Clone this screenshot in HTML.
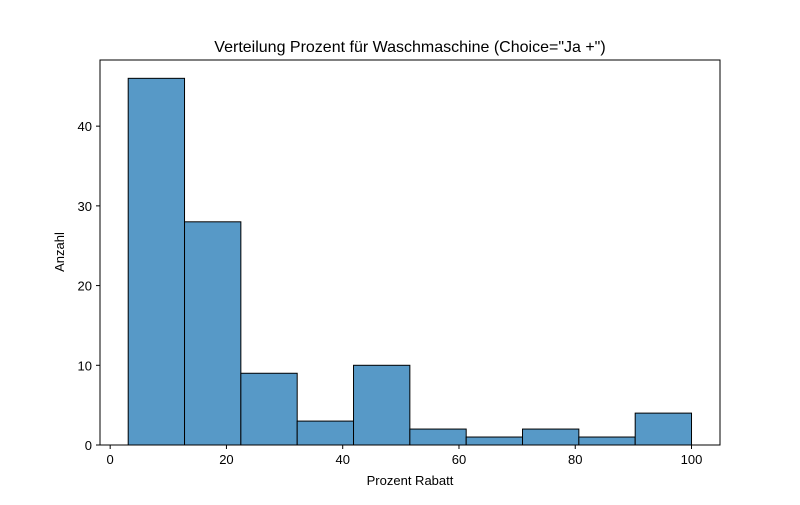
<!DOCTYPE html>
<html><head><meta charset="utf-8"><style>
body{margin:0;background:#fff;font-family:"Liberation Sans","DejaVu Sans",sans-serif;}
</style></head><body>
<svg id="chart" width="800" height="500" xmlns="http://www.w3.org/2000/svg">
<text x="410" y="52" font-size="16" text-anchor="middle">Verteilung Prozent für Waschmaschine (Choice="Ja +")</text>
<g id="bars"></g>
<rect x="100" y="60" width="620" height="385" fill="none" stroke="#000" stroke-width="1"/>
<g id="xticks"></g><g id="yticks"></g>
<text x="410" y="485" font-size="13" text-anchor="middle">Prozent Rabatt</text>
<text x="64" y="252" font-size="13" text-anchor="middle" transform="rotate(-90 64 252)">Anzahl</text>
</svg>
<script>
const binStart = 3.1;
const binWidth = 9.69;
const counts = [46, 28, 9, 3, 10, 2, 1, 2, 1, 4];
const xTicks = [0, 20, 40, 60, 80, 100];
const yTicks = [0, 10, 20, 30, 40];
const xMin = -1.75, xMax = 104.9, yMin = 0, yMax = 48.3;
const L = 100, R = 720, T = 60, B = 445;
const xs = v => L + (v - xMin) / (xMax - xMin) * (R - L);
const ys = v => B - (v - yMin) / (yMax - yMin) * (B - T);
const NS = "http://www.w3.org/2000/svg";
const bars = document.getElementById('bars');
counts.forEach((c, i) => {
  const x0 = xs(binStart + i * binWidth), x1 = xs(binStart + (i + 1) * binWidth);
  const r = document.createElementNS(NS, 'rect');
  r.setAttribute('x', x0); r.setAttribute('y', ys(c));
  r.setAttribute('width', x1 - x0); r.setAttribute('height', ys(0) - ys(c));
  r.setAttribute('fill', '#5799c7'); r.setAttribute('stroke', '#000'); r.setAttribute('stroke-width', '1');
  
  
  bars.appendChild(r);
});
const xg = document.getElementById('xticks');
xTicks.forEach(t => {
  const x = xs(t);
  const l = document.createElementNS(NS, 'line');
  l.setAttribute('x1', x); l.setAttribute('x2', x); l.setAttribute('y1', B); l.setAttribute('y2', B + 4); l.setAttribute('stroke', '#000');
  
  
  xg.appendChild(l);
  const tx = document.createElementNS(NS, 'text');
  tx.setAttribute('x', x); tx.setAttribute('y', B + 19); tx.setAttribute('font-size', '13'); tx.setAttribute('text-anchor', 'middle');
  tx.textContent = t;
  
  
  xg.appendChild(tx);
});
const yg = document.getElementById('yticks');
yTicks.forEach(t => {
  const y = ys(t);
  const l = document.createElementNS(NS, 'line');
  l.setAttribute('x1', L - 4); l.setAttribute('x2', L); l.setAttribute('y1', y); l.setAttribute('y2', y); l.setAttribute('stroke', '#000');
  
  
  yg.appendChild(l);
  const tx = document.createElementNS(NS, 'text');
  tx.setAttribute('x', L - 8); tx.setAttribute('y', y + 5); tx.setAttribute('font-size', '13'); tx.setAttribute('text-anchor', 'end');
  tx.textContent = t;
  
  
  yg.appendChild(tx);
});
</script>
</body></html>
